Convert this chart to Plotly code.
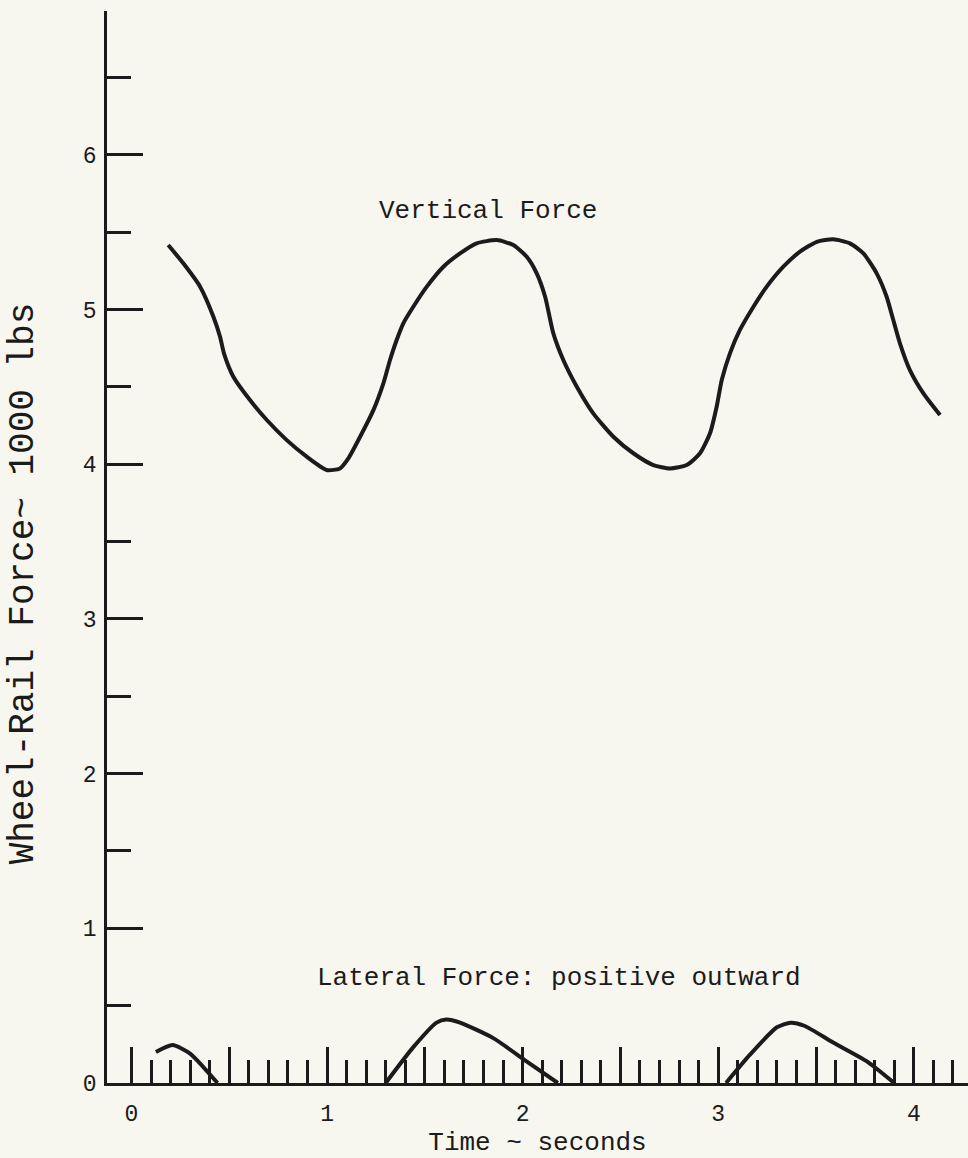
import plotly.graph_objects as go

# Vertical wheel-rail force (1000 lbs) vs time (s)
vert_t = [0.188, 0.265, 0.351, 0.419, 0.453, 0.473, 0.521, 0.606, 0.692, 0.794,
          0.896, 0.998, 1.066, 1.109, 1.169, 1.237, 1.288, 1.322, 1.356, 1.390,
          1.441, 1.510, 1.595, 1.680, 1.765, 1.868, 1.952, 2.021, 2.072, 2.115,
          2.157, 2.208, 2.277, 2.361, 2.464, 2.566, 2.668, 2.754, 2.839, 2.907,
          2.958, 2.992, 3.018, 3.060, 3.111, 3.180, 3.248, 3.333, 3.418, 3.504,
          3.588, 3.673, 3.742, 3.810, 3.861, 3.895, 3.929, 3.980, 4.049, 4.134]
vert_f = [5.417, 5.299, 5.148, 4.954, 4.824, 4.717, 4.566, 4.415, 4.286, 4.156,
          4.049, 3.963, 3.973, 4.038, 4.178, 4.350, 4.523, 4.674, 4.803, 4.911,
          5.018, 5.148, 5.277, 5.363, 5.428, 5.449, 5.417, 5.341, 5.234, 5.083,
          4.846, 4.674, 4.501, 4.329, 4.178, 4.071, 3.995, 3.973, 3.995, 4.071,
          4.200, 4.372, 4.544, 4.717, 4.868, 5.018, 5.148, 5.277, 5.374, 5.438,
          5.454, 5.428, 5.363, 5.234, 5.083, 4.932, 4.782, 4.609, 4.458, 4.318]

# Lateral force pulses (positive outward)
lat1_t = [0.125, 0.21, 0.30, 0.37, 0.44]
lat1_f = [0.20, 0.245, 0.19, 0.10, 0.0]
lat2_t = [1.30, 1.44, 1.56, 1.61, 1.68, 1.85, 2.02, 2.18]
lat2_f = [0.0, 0.23, 0.39, 0.41, 0.39, 0.29, 0.14, 0.0]
lat3_t = [3.04, 3.16, 3.30, 3.37, 3.44, 3.59, 3.76, 3.90]
lat3_f = [0.0, 0.18, 0.36, 0.39, 0.37, 0.26, 0.14, 0.0]

x_major = [0, 0.5, 1, 1.5, 2, 2.5, 3, 3.5, 4]
x_labels = ["0", "", "1", "", "2", "", "3", "", "4"]
y_major = [0, 1, 2, 3, 4, 5, 6]
y_minor = [0.5, 1.5, 2.5, 3.5, 4.5, 5.5, 6.5]
x_minor = [round(i / 10, 1) for i in range(1, 43) if i % 5 != 0]

INK = "#1b1b1b"
PAPER = "#f7f6ef"
FONT = "Liberation Mono, Courier New, monospace"

fig = go.Figure()
line = dict(color=INK, width=4, shape="spline", smoothing=0.6)
fig.add_trace(go.Scatter(x=vert_t, y=vert_f, mode="lines", line=line))
for t, f in [(lat1_t, lat1_f), (lat2_t, lat2_f), (lat3_t, lat3_f)]:
    fig.add_trace(go.Scatter(x=t, y=f, mode="lines", line=line))

fig.update_layout(
    width=968, height=1158,
    margin=dict(l=107, r=0, t=11, b=75),
    paper_bgcolor=PAPER, plot_bgcolor=PAPER,
    showlegend=False,
    font=dict(family=FONT, color=INK, size=23),
)

fig.update_xaxes(
    range=[-0.125, 4.277], showgrid=False, zeroline=False,
    showline=True, linecolor=INK, linewidth=2.5,
    tickmode="array", tickvals=x_major, ticktext=x_labels,
    ticks="inside", ticklen=36, tickwidth=2.5, tickcolor=INK,
    ticklabelstandoff=8,
    minor=dict(tickmode="array", tickvals=x_minor, ticks="inside",
               ticklen=23, tickwidth=2.5, tickcolor=INK),
    title=dict(text="Time ~ seconds", font=dict(size=26), standoff=2),
)
fig.update_yaxes(
    range=[0, 6.93], showgrid=False, zeroline=False,
    showline=True, linecolor=INK, linewidth=2.5,
    tickmode="array", tickvals=y_major, ticktext=[str(v) for v in y_major],
    ticks="inside", ticklen=36, tickwidth=2.5, tickcolor=INK,
    ticklabelstandoff=3,
    minor=dict(tickmode="array", tickvals=y_minor, ticks="inside",
               ticklen=24, tickwidth=2.5, tickcolor=INK),
)

fig.add_annotation(
    text="Wheel-Rail Force~ 1000 lbs", textangle=-90,
    xref="paper", yref="paper", x=-0.0965, y=0.466,
    xanchor="center", yanchor="middle", showarrow=False,
    font=dict(size=36),
)
fig.add_annotation(
    text="Vertical Force", x=1.823, y=5.64, showarrow=False,
    xanchor="center", yanchor="middle", font=dict(size=26),
)
fig.add_annotation(
    text="Lateral Force: positive outward", x=2.186, y=0.68, showarrow=False,
    xanchor="center", yanchor="middle", font=dict(size=26),
)

fig.write_html("out.html")
